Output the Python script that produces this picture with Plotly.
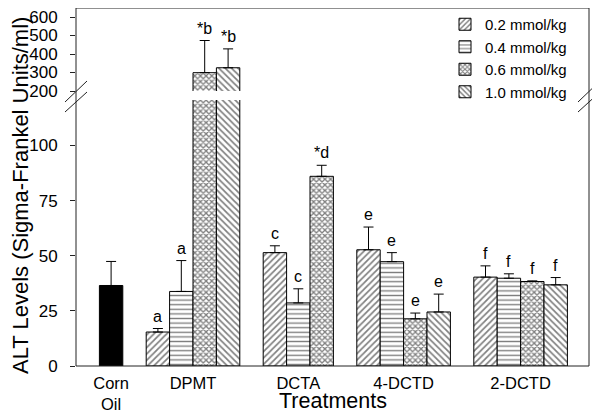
import plotly.graph_objects as go

# ---- data ----
treatments = ["DPMT", "DCTA", "4-DCTD", "2-DCTD"]
doses = ["0.2 mmol/kg", "0.4 mmol/kg", "0.6 mmol/kg", "1.0 mmol/kg"]
control_label = "Corn<br>Oil"
control_value = 36.5
control_err = 10.9

vals_02 = [15.4, 51.4, 52.7, 40.3]
vals_04 = [33.8, 28.6, 47.3, 39.8]
vals_06 = [299.0, 86.0, 21.4, 38.3]
vals_10 = [325.6, None, 24.5, 36.8]

err_02 = [1.6, 3.1, 10.3, 5.1]
err_04 = [14.0, 6.4, 4.1, 2.0]
err_06 = [174.0, 5.0, 2.6, 0.3]
err_10 = [102.0, None, 8.1, 3.3]

lab_02 = ["a", "c", "e", "f"]
lab_04 = ["a", "c", "e", "f"]
lab_06 = ["*b", "*d", "e", "f"]
lab_10 = ["*b", "", "e", "f"]

lower_ticks = [0, 25, 50, 75, 100]
upper_ticks = [200, 300, 400, 500, 600]

# ---- layout helpers (slot positions: one bar per slot, one empty slot between groups) ----
control_start = 1
group_starts = [3, 8, 12, 17]
series_vals = [vals_02, vals_04, vals_06, vals_10]
series_errs = [err_02, err_04, err_06, err_10]
series_labs = [lab_02, lab_04, lab_06, lab_10]
patterns = ["/", "-", "x", "\\"]
pat_sizes = [4.5, 4.6, 4, 4.5]
pat_solid = [0.38, 0.3, 0.55, 0.38]

FONT = "Liberation Sans, Arial, sans-serif"

# page body has an 8px margin: figure is sized so it fits the 600x412 window
W, H = 592, 404
ML, MR, MT, MB = 68, 11, 0, 46
PW, PH = W - ML - MR, H - MT - MB
OFF = 8


def px_to_paper_x(px):
    return (px - OFF - ML) / PW


def px_to_paper_y(py):
    return (H - MB + OFF - py) / PH


# upper panel: 200 sits at page y=91, 600 at page y=17 (keeps the "600" label on the page)
up_scale = (91 - 17) / 400.0
up_top = 600 + (17 - OFF - MT) / up_scale

fig = go.Figure()

# control bar (both panels)
for ax in ["y", "y2"]:
    fig.add_trace(go.Bar(
        x=[control_start + 0.5], y=[control_value], width=1, xaxis="x", yaxis=ax,
        marker=dict(color="black", line=dict(color="black", width=1)),
        error_y=dict(type="data", array=[control_err], arrayminus=[0], symmetric=False,
                     color="black", thickness=1, width=5),
        showlegend=False, hoverinfo="skip"))

annotations = []
for i, (vals, errs, labs, pat, ps, so) in enumerate(zip(series_vals, series_errs, series_labs,
                                                        patterns, pat_sizes, pat_solid)):
    xs = [g + i + 0.5 for g in group_starts]
    for ax in ["y", "y2"]:
        fig.add_trace(go.Bar(
            x=xs, y=vals, width=1, xaxis="x", yaxis=ax, name=doses[i],
            marker=dict(color="white", line=dict(color="black", width=1),
                        pattern=dict(shape=pat, fgcolor="black", bgcolor="white", size=ps, solidity=so)),
            error_y=dict(type="data", array=[e if e is not None else 0 for e in errs],
                         arrayminus=[0] * len(errs), symmetric=False,
                         color="black", thickness=1, width=5),
            showlegend=(ax == "y"), legendgroup=doses[i]))
    for x, v, e, t in zip(xs, vals, errs, labs):
        if v is None or not t:
            continue
        top = v + e
        annotations.append(dict(x=x, y=top, xref="x", yref="y2" if top > 150 else "y",
                                text=t, showarrow=False, yanchor="bottom", yshift=2,
                                font=dict(family=FONT, size=16, color="black")))

# axis titles
annotations.append(dict(x=px_to_paper_x(20), y=px_to_paper_y(196), xref="paper", yref="paper",
                        text="ALT Levels (Sigma-Frankel Units/ml)",
                        textangle=-90, showarrow=False, xanchor="center", yanchor="middle",
                        font=dict(family=FONT, size=22, color="black")))
annotations.append(dict(x=0.5, y=px_to_paper_y(401), xref="paper", yref="paper", text="Treatments",
                        showarrow=False, xanchor="center", yanchor="middle",
                        font=dict(family=FONT, size=21.5, color="black")))

tick_centers = [control_start + 0.5]
for g, t in zip(group_starts, range(len(treatments))):
    n = sum(1 for s in series_vals if s[t] is not None)
    tick_centers.append(g + n / 2)

shapes = [dict(type="rect", xref="paper", yref="paper", x0=0, y0=0, x1=1, y1=1,
               line=dict(color="#222", width=1), fillcolor="rgba(0,0,0,0)")]
# axis-break marks on both edges
dx = 11 / PW
for xc in [0.0, 1.0]:
    for (ya, yb) in [(px_to_paper_y(102), px_to_paper_y(81)), (px_to_paper_y(112), px_to_paper_y(92))]:
        shapes.append(dict(type="line", xref="paper", yref="paper",
                           x0=xc - dx, y0=ya, x1=xc + dx, y1=yb,
                           line=dict(color="#222", width=1)))

fig.update_layout(
    width=W, height=H,
    margin=dict(l=ML, r=MR, t=MT, b=MB, autoexpand=False),
    paper_bgcolor="white", plot_bgcolor="white",
    barmode="overlay",
    font=dict(family=FONT, size=17, color="black"),
    xaxis=dict(range=[0, PW / 23.4], tickvals=tick_centers, automargin=False,
               ticktext=[control_label] + treatments, showgrid=False, zeroline=False,
               showline=False, ticks="", tickfont=dict(size=16.5), ticklabelstandoff=5),
    yaxis=dict(domain=[0, px_to_paper_y(100)], range=[0, 120.6], tickvals=lower_ticks, automargin=False,
               showgrid=False, zeroline=False, showline=False, ticks="outside",
               ticklen=5, tickcolor="#222", tickfont=dict(size=17), ticklabelstandoff=9),
    yaxis2=dict(domain=[px_to_paper_y(91), 1], range=[200, up_top], tickvals=upper_ticks, anchor="x",
                automargin=False, ticklabeloverflow="allow",
                showgrid=False, zeroline=False, showline=False, ticks="outside",
                ticklen=5, tickcolor="#222", tickfont=dict(size=17), ticklabelstandoff=9),
    legend=dict(x=px_to_paper_x(589) - 17 / PW, y=1.0, xanchor="right", yanchor="top",
                bgcolor="rgba(0,0,0,0)", font=dict(size=15), tracegroupgap=0, itemwidth=30),
    annotations=annotations, shapes=shapes,
)

fig.write_html("out.html")
